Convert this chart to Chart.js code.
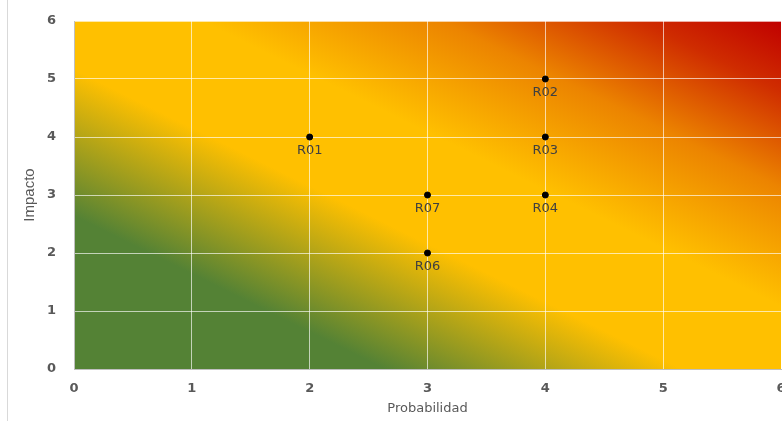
<!DOCTYPE html>
<html>
<head>
<meta charset="utf-8">
<script src="https://cdn.jsdelivr.net/npm/chart.js@4/dist/chart.umd.min.js"></script>
<style>
  html, body { margin: 0; padding: 0; background: #fff; }
  #wrap { width: 782px; height: 421px; position: relative; }
</style>
</head>
<body>
<div id="wrap"><canvas id="riskChart"></canvas></div>
<script>
// risk codes and their (probabilidad, impacto)
var riskLabels = ["R01", "R02", "R03", "R04", "R07", "R06"];
var probabilidad = [2, 4, 4, 4, 3, 3];
var impacto = [4, 5, 4, 3, 3, 2];
var axisTicks = [0, 1, 2, 3, 4, 5, 6];

var points = riskLabels.map((v, i) => ({ x: probabilidad[i], y: impacto[i] }));

// heat map background, green bottom-left -> red top-right
var heatBackground = {
    id: "heatBackground",
    beforeDraw(chart) {
        var ctx = chart.ctx;
        var a = chart.chartArea;
        ctx.save();
        ctx.translate(a.left, a.top);
        ctx.scale(a.right - a.left, a.bottom - a.top);
        var g = ctx.createLinearGradient(0, 1, 1, 0);
        g.addColorStop(0, "#548235");
        g.addColorStop(0.22, "#548235");
        g.addColorStop(0.43, "#FFC000");
        g.addColorStop(0.59, "#FFC000");
        g.addColorStop(0.76, "#EC8400");
        g.addColorStop(0.9, "#CF2C00");
        g.addColorStop(1, "#C00000");
        ctx.fillStyle = g;
        ctx.fillRect(0, 0, 1, 1);
        ctx.restore();
        // outer frame line on the left
        ctx.save();
        ctx.strokeStyle = "#d9d9d9";
        ctx.lineWidth = 1;
        ctx.beginPath();
        ctx.moveTo(7.5, 0);
        ctx.lineTo(7.5, 421);
        ctx.stroke();
        ctx.restore();
    }
};

// labels under each point
var pointLabels = {
    id: "pointLabels",
    afterDatasetsDraw(chart) {
        var ctx = chart.ctx;
        var meta = chart.getDatasetMeta(0);
        ctx.save();
        ctx.font = "13px 'DejaVu Sans'";
        ctx.fillStyle = "#404040";
        ctx.textAlign = "center";
        ctx.textBaseline = "middle";
        meta.data.forEach((el, i) => {
            ctx.fillText(riskLabels[i], el.x, el.y + 14);
        });
        ctx.restore();
    }
};

new Chart(document.getElementById("riskChart"), {
    type: "scatter",
    data: {
        datasets: [{
            label: "Riesgos",
            data: points,
            backgroundColor: "#000",
            borderColor: "#000",
            pointRadius: 3,
            pointHoverRadius: 3
        }]
    },
    options: {
        responsive: true,
        maintainAspectRatio: false,
        animation: false,
        layout: { autoPadding: false, padding: { top: 21, right: 1, left: 0, bottom: 0 } },
        plugins: {
            legend: { display: false },
            tooltip: { enabled: false }
        },
        scales: {
            x: {
                type: "linear",
                min: 0,
                max: 6,
                afterBuildTicks: (scale) => { scale.ticks = axisTicks.map(v => ({ value: v })); },
                afterFit: (scale) => {
                    scale.height = 52;
                    scale.paddingLeft = 0;
                    scale.paddingRight = 0;
                },
                grid: { color: "rgba(255,255,255,0.65)", drawTicks: false },
                border: { color: "#bfbfbf" },
                ticks: {
                    padding: 12,
                    color: "#595959",
                    font: { family: "'DejaVu Sans'", size: 13, weight: "bold" }
                },
                title: {
                    display: true,
                    text: "Probabilidad",
                    color: "#595959",
                    padding: { top: 0, bottom: 5 },
                    font: { family: "'DejaVu Sans'", size: 13 }
                }
            },
            y: {
                type: "linear",
                min: 0,
                max: 6,
                afterBuildTicks: (scale) => { scale.ticks = axisTicks.map(v => ({ value: v })); },
                afterFit: (scale) => {
                    scale.width = 74;
                    scale.paddingTop = 0;
                    scale.paddingBottom = 0;
                },
                grid: { color: "rgba(255,255,255,0.65)", drawTicks: false },
                border: { color: "#bfbfbf" },
                ticks: {
                    padding: 18,
                    color: "#595959",
                    font: { family: "'DejaVu Sans'", size: 13, weight: "bold" }
                },
                title: {
                    display: true,
                    text: "Impacto",
                    color: "#595959",
                    padding: { top: 21, bottom: 0 },
                    font: { family: "'Liberation Sans Narrow', 'Liberation Sans'", size: 15 }
                }
            }
        }
    },
    plugins: [heatBackground, pointLabels]
});
</script>
</body>
</html>
